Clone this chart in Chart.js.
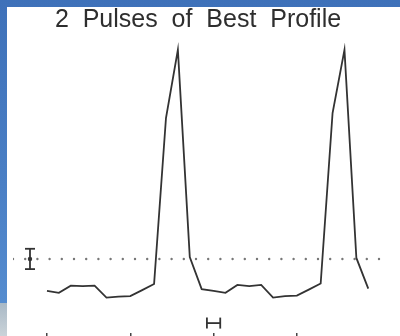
<!DOCTYPE html>
<html>
<head>
<meta charset="utf-8">
<script src="https://cdn.jsdelivr.net/npm/chart.js@4.4.1/dist/chart.umd.min.js"></script>
<style>
  html, body { margin: 0; padding: 0; }
  body {
    width: 400px; height: 336px; overflow: hidden; position: relative;
    background: linear-gradient(180deg, #3e71b9 0%, #4a7fc5 55%, #5890d2 100%);
  }
  #edge {
    position: absolute; left: 0; top: 303px; width: 7px; height: 33px;
    background: linear-gradient(180deg, #a9b9c6, #cad3d9);
  }
  #panel {
    position: absolute; left: 7px; top: 7px; width: 393px; height: 329px;
    background: #ffffff; overflow: hidden;
  }
</style>
</head>
<body>
<div id="edge"></div>
<div id="panel"><canvas id="profileChart" width="393" height="329"></canvas></div>
<script>
const binsPerPulse = 14;

// normalised intensity per phase bin, two consecutive pulses
const intensity = [
    0.027, 0.019, 0.048, 0.046, 0.048, 0.000, 0.004, 0.006, 0.030, 0.055, 0.725, 1.000, 0.164, 0.034,
    0.027, 0.019, 0.051, 0.046, 0.051, 0.000, 0.006, 0.008, 0.032, 0.057, 0.745, 1.000, 0.160, 0.036
];

const phaseTicks = [0, 0.5, 1, 1.5];

// off-pulse level and its error bar
const offPulseLevel = 0.156;
const levelError = 0.041;
const levelErrorPhase = -0.102;

// phase resolution bar
const resolutionPhase = 1.0;
const resolutionHalfWidth = 0.04;
const resolutionLevel = -0.103;

const xMin = -0.204, xMax = 2.017;
const yMin = -0.143, yMax = 1.04;

const ink = "#333333";

const profilePoints = intensity.map((v, i) => ({ x: i / binsPerPulse, y: v }));

let profileChart = new Chart(document.getElementById("profileChart"), {
    type: "line",
    data: {
        datasets: [
            {
                data: profilePoints,
                borderColor: ink,
                borderWidth: 1.8,
                pointRadius: 0,
                tension: 0
            },
            {
                data: [{ x: xMin, y: offPulseLevel }, { x: xMax, y: offPulseLevel }],
                borderColor: "#777777",
                borderWidth: 2.4,
                borderDash: [0, 12.2],
                borderCapStyle: "round",
                pointRadius: 0
            },
            {
                data: [
                    { x: levelErrorPhase, y: offPulseLevel - levelError },
                    { x: levelErrorPhase, y: offPulseLevel + levelError }
                ],
                borderColor: ink,
                borderWidth: 1.8,
                pointStyle: "line",
                pointRadius: 5,
                pointBorderWidth: 1.8,
                pointBorderColor: ink
            },
            {
                data: [{ x: levelErrorPhase, y: offPulseLevel }],
                showLine: false,
                pointRadius: 2.2,
                pointBackgroundColor: ink,
                pointBorderColor: ink,
                pointBorderWidth: 0
            },
            {
                data: [
                    { x: resolutionPhase - resolutionHalfWidth, y: resolutionLevel },
                    { x: resolutionPhase + resolutionHalfWidth, y: resolutionLevel }
                ],
                borderColor: ink,
                borderWidth: 1.8,
                pointStyle: "line",
                pointRotation: 90,
                pointRadius: 5.5,
                pointBorderWidth: 1.8,
                pointBorderColor: ink
            }
        ]
    },
    options: {
        responsive: false,
        devicePixelRatio: 1,
        animation: false,
        layout: { autoPadding: false, padding: { left: 6, right: 17, top: 0, bottom: 0 } },
        scales: {
            x: {
                type: "linear",
                min: xMin,
                max: xMax,
                border: { display: false },
                grid: {
                    drawOnChartArea: false,
                    drawTicks: true,
                    tickLength: 3,
                    color: "#444444",
                    lineWidth: 1.5
                },
                ticks: { display: false },
                afterBuildTicks: (scale) => {
                    scale.ticks = phaseTicks.map(v => ({ value: v }));
                }
            },
            y: {
                type: "linear",
                display: false,
                min: yMin,
                max: yMax
            }
        },
        plugins: {
            legend: { display: false },
            tooltip: { enabled: false },
            title: {
                display: true,
                text: "2  Pulses  of  Best  Profile",
                color: "#2e2e2e",
                font: { family: "Liberation Sans", size: 25, weight: "normal", lineHeight: 1.067 },
                padding: { top: 0, bottom: 6.3 }
            }
        }
    }
});
</script>
</body>
</html>
